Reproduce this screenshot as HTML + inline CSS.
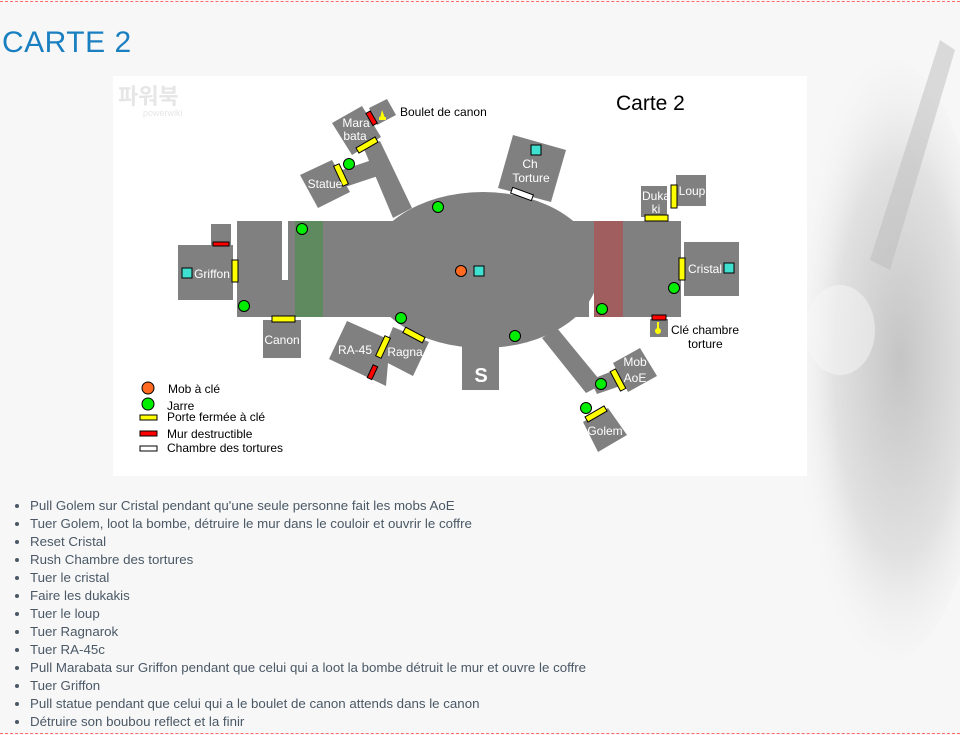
<!DOCTYPE html>
<html><head><meta charset="utf-8"><style>
body{margin:0;width:960px;height:735px;background:#f7f7f7;font-family:"Liberation Sans",sans-serif;position:relative;overflow:hidden}
.dash{position:absolute;left:0;width:960px;border-top:1px dashed #ff6b6b}
h1{position:absolute;left:2px;top:26px;margin:0;font-weight:normal;font-size:30px;color:#1a7fc0;letter-spacing:0.5px}
ul{position:absolute;left:0;top:497px;margin:0;padding-left:30px;font-size:13.3px;color:#4a5866;line-height:18px}
li{list-style:disc}
.bg{position:absolute;right:0;top:0}
</style></head><body>
<svg class="bg" width="200" height="735" viewBox="0 0 200 735">
<defs><radialGradient id="g1" cx="0.55" cy="0.5" r="0.55"><stop offset="0" stop-color="#b8b8b8"/><stop offset="0.6" stop-color="#dcdcdc"/><stop offset="1" stop-color="#f7f7f7" stop-opacity="0"/></radialGradient></defs>
<ellipse cx="130" cy="360" rx="100" ry="300" fill="url(#g1)" opacity="0.8"/>
<path d="M110 260 L180 40 L195 50 L130 270 Z" fill="#bbb" opacity="0.5"/>
<ellipse cx="80" cy="330" rx="35" ry="45" fill="#f7f7f7" opacity="0.5"/>
</svg>
<div class="dash" style="top:1px"></div>
<div class="dash" style="top:733px"></div>
<h1>CARTE 2</h1>
<svg style="position:absolute;left:0;top:0" width="960" height="735" font-family="Liberation Sans, sans-serif">
<rect x="113" y="76" width="694" height="400" fill="#fff"/>
<text x="118" y="104" font-size="22" fill="#e6e6e6" font-family="Noto Sans CJK KR, sans-serif" font-weight="bold">파워북</text>
<text x="143" y="116" font-size="9" fill="#e6e6e6">powerwiki</text>
<text x="616" y="110" font-size="21" fill="#000">Carte 2</text>
<g fill="#808080">
<polygon points="364,149 380,141 412,208 393,218"/>
<polygon points="336,172 372,160 378,176 342,188"/>
<polygon points="542,338 557,328 603,384 586,393"/>
<polygon points="590,380 620,368 626,384 597,394"/>
<ellipse cx="483" cy="270" rx="116" ry="78"/>
<rect x="237" y="221" width="45" height="96"/>
<rect x="282" y="280" width="6" height="37"/>
<rect x="288" y="221" width="301" height="96"/>
<rect x="589" y="221" width="5" height="32"/>
<rect x="594" y="221" width="87" height="96"/>
<rect x="462" y="340" width="37" height="50"/>
<rect x="178" y="245" width="55" height="55"/>
<rect x="211" y="224" width="20" height="21"/>
<rect x="263" y="320" width="38" height="38"/>
<rect x="684" y="242" width="55" height="54"/>
<rect x="641" y="186" width="26" height="31"/>
<rect x="676" y="175" width="30" height="31"/>
<rect x="650" y="319" width="18" height="18"/>
<polygon points="300,175 332,160 350,192 318,208"/>
<polygon points="332,123 362,106 381,137 352,155"/>
<polygon points="369,108 387,99 396,115 377,125"/>
<polygon points="513,135 566,150 551,202 498,188"/>
<polygon points="347,321 390,340 386,386 329,359"/>
<polygon points="393,327 429,342 413,376 380,359"/>
<polygon points="613,363 640,348 657,376 628,392"/>
<polygon points="583,422 608,408 627,435 598,452"/>
</g>
<rect x="295" y="221" width="28" height="96" fill="#5f8a5f"/>
<rect x="594" y="221" width="29" height="96" fill="#a05e5e"/>
<g stroke="#000" stroke-width="1">
<g fill="#ffff00">
<rect x="356" y="142" width="22" height="6" transform="rotate(-30 367 145)"/>
<rect x="330" y="172" width="22" height="6" transform="rotate(65 341 175)"/>
<rect x="232" y="260" width="6" height="22"/>
<rect x="272" y="316" width="23" height="6"/>
<rect x="372" y="344" width="22" height="6" transform="rotate(-65 383 347)"/>
<rect x="403" y="332" width="22" height="6" transform="rotate(28 414 335)"/>
<rect x="645" y="215" width="23" height="6"/>
<rect x="671" y="185" width="6" height="23"/>
<rect x="679" y="258" width="6" height="22"/>
<rect x="607" y="377" width="22" height="6" transform="rotate(62 618 380)"/>
<rect x="585" y="411" width="22" height="6" transform="rotate(-30 596 414)"/>
</g>
<g fill="#ff0000">
<rect x="365" y="116" width="14" height="5" transform="rotate(60 372 118)"/>
<rect x="213" y="242" width="16" height="4"/>
<rect x="365" y="370" width="14" height="5" transform="rotate(-65 372 372)"/>
<rect x="652" y="315" width="14" height="5"/>
<rect x="140" y="431" width="17" height="5"/>
</g>
<rect x="511" y="191" width="22" height="6" fill="#fff" transform="rotate(20 522 194)"/>
<rect x="140" y="446" width="17" height="5" fill="#fff"/>
<rect x="140" y="415" width="17" height="5" fill="#ffff00"/>
<g fill="#00ee00">
<circle cx="302" cy="229" r="5.5"/><circle cx="438" cy="207" r="5.5"/><circle cx="349" cy="164" r="5.5"/>
<circle cx="244" cy="306" r="5.5"/><circle cx="401" cy="318" r="5.5"/><circle cx="515" cy="336" r="5.5"/>
<circle cx="602" cy="309" r="5.5"/><circle cx="674" cy="288" r="5.5"/><circle cx="601" cy="384" r="5.5"/>
<circle cx="586" cy="408" r="5.5"/><circle cx="148" cy="404" r="6"/>
</g>
<circle cx="461" cy="271" r="5.5" fill="#ff6a20"/><circle cx="148" cy="388" r="6" fill="#ff6a20"/>
<g fill="#40e0d0">
<rect x="474" y="266" width="10" height="10"/><rect x="182" y="268" width="10" height="10"/>
<rect x="724" y="263" width="10" height="10"/><rect x="531" y="145" width="10" height="10"/>
</g>
</g>
<path d="M380 118 L382 110 L385 118 Z M379 117 h7 v3 h-7Z" fill="#ffff00"/>
<circle cx="658" cy="331" r="3" fill="#ffff00"/><rect x="657" y="322" width="2" height="8" fill="#ffff00"/>
<text x="481" y="382" font-size="20" font-weight="bold" fill="#fff" text-anchor="middle">S</text>
<g fill="#fff" font-size="12" text-anchor="middle">
<text x="356" y="127">Mara</text><text x="355" y="140">bata</text>
<text x="325" y="188">Statue</text>
<text x="530" y="168">Ch</text><text x="531" y="182">Torture</text>
<text x="656" y="200">Duka</text><text x="656" y="213">ki</text>
<text x="692" y="195">Loup</text>
<text x="212" y="278">Griffon</text>
<text x="705" y="273">Cristal</text>
<text x="282" y="344">Canon</text>
<text x="355" y="354">RA-45</text>
<text x="405" y="356">Ragna</text>
<text x="635" y="366">Mob</text><text x="635" y="382">AoE</text>
<text x="605" y="435">Golem</text>
</g>
<g fill="#000" font-size="12">
<text x="400" y="116">Boulet de canon</text>
<text x="671" y="334">Clé chambre</text><text x="688" y="348">torture</text>
<text x="168" y="393">Mob à clé</text>
<text x="167" y="410">Jarre</text>
<text x="167" y="421">Porte fermée à clé</text>
<text x="167" y="438">Mur destructible</text>
<text x="167" y="452">Chambre des tortures</text>
</g>
</svg>
<ul>
<li>Pull Golem sur Cristal pendant qu'une seule personne fait les mobs AoE</li>
<li>Tuer Golem, loot la bombe, détruire le mur dans le couloir et ouvrir le coffre</li>
<li>Reset Cristal</li>
<li>Rush Chambre des tortures</li>
<li>Tuer le cristal</li>
<li>Faire les dukakis</li>
<li>Tuer le loup</li>
<li>Tuer Ragnarok</li>
<li>Tuer RA-45c</li>
<li>Pull Marabata sur Griffon pendant que celui qui a loot la bombe détruit le mur et ouvre le coffre</li>
<li>Tuer Griffon</li>
<li>Pull statue pendant que celui qui a le boulet de canon attends dans le canon</li>
<li>Détruire son boubou reflect et la finir</li>
</ul>
</body></html>
